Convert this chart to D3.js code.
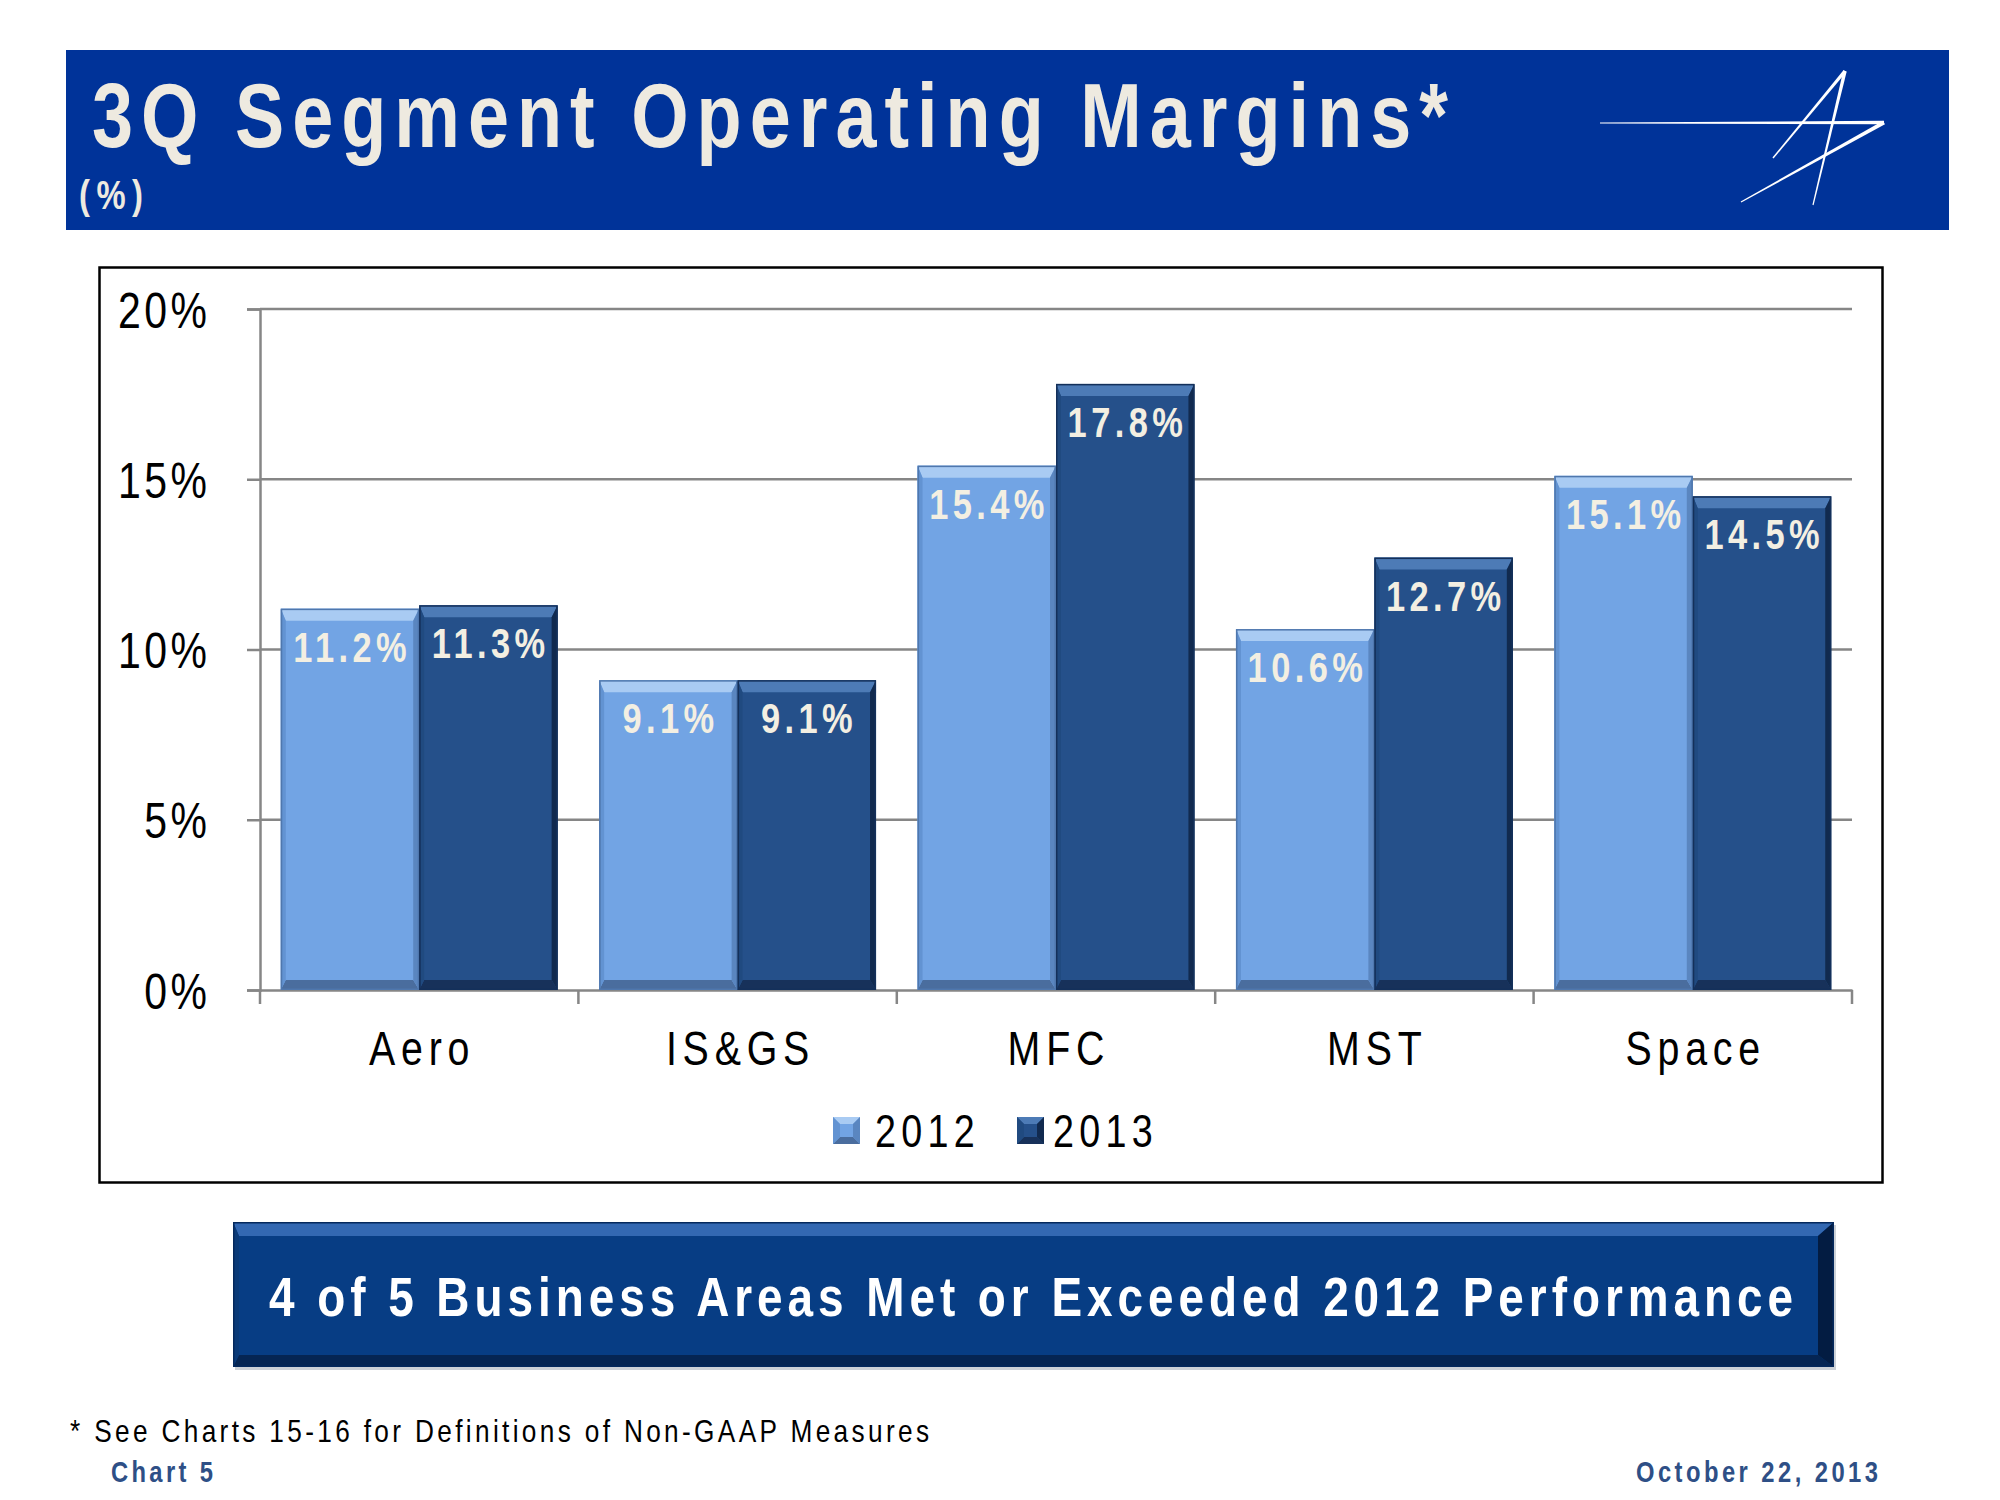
<!DOCTYPE html>
<html><head><meta charset="utf-8">
<script src="https://cdn.jsdelivr.net/npm/d3@7"></script>
<style>html,body{margin:0;padding:0;background:#fff;} svg{display:block;}</style>
</head><body>
<script>
// ---- data ----
const categories = ["Aero", "IS&GS", "MFC", "MST", "Space"];
const seriesNames = ["2012", "2013"];
const values2012 = [11.2, 9.1, 15.4, 10.6, 15.1];
const values2013 = [11.3, 9.1, 17.8, 12.7, 14.5];
const yTickValues = [0, 5, 10, 15, 20];
const yTickLabels = ["0%", "5%", "10%", "15%", "20%"];
const titleText = "3Q Segment Operating Margins*";
const unitText = "(%)";
const bannerText = "4 of 5 Business Areas Met or Exceeded 2012 Performance";
const footnoteText = "* See Charts 15-16 for Definitions of Non-GAAP Measures";
const chartNumText = "Chart 5";
const dateText = "October 22, 2013";

const FONT = "'Liberation Sans', Arial, sans-serif";
const K = 0.82; // horizontal compression to emulate a narrow face
const W = 2000, H = 1500;
const svg = d3.select("body").append("svg").attr("width", W).attr("height", H)
  .style("font-family", FONT);
svg.append("rect").attr("width", W).attr("height", H).attr("fill", "#fff");

// narrow text helper
function ntext(parent, o) {
  const k = o.k || K;
  const anchor = o.anchor || "start";
  let x = o.x;
  if (o.ls != null && !o.width) {
    if (anchor === "end") x += o.ls;
    else if (anchor === "middle") x += o.ls / 2;
  }
  const t = parent.append("text")
    .attr("transform", `translate(${x},${o.y}) scale(${k},1)`)
    .attr("font-size", o.size).attr("font-weight", o.weight || "normal")
    .attr("fill", o.fill || "#000").attr("text-anchor", anchor).text(o.text);
  if (o.width) t.attr("textLength", o.width / k).attr("lengthAdjust", "spacing");
  else if (o.ls != null) t.attr("letter-spacing", o.ls / k);
  return t;
}

// ---- header ----
svg.append("rect").attr("x", 66).attr("y", 50).attr("width", 1883).attr("height", 180).attr("fill", "#003399");
ntext(svg, {x: 92, y: 147, text: titleText, size: 90, weight: "bold", fill: "#eeeae0", width: 1356});
ntext(svg, {x: 79, y: 209, text: unitText, size: 40, weight: "bold", fill: "#eeeae0", width: 64});

// logo: tapered white strokes
function taper(x1, y1, x2, y2, w1, w2) {
  const dx = x2 - x1, dy = y2 - y1, L = Math.hypot(dx, dy);
  const nx = -dy / L, ny = dx / L;
  return [[x1 + nx * w1 / 2, y1 + ny * w1 / 2], [x2 + nx * w2 / 2, y2 + ny * w2 / 2],
          [x2 - nx * w2 / 2, y2 - ny * w2 / 2], [x1 - nx * w1 / 2, y1 - ny * w1 / 2]];
}
const logo = svg.append("g").attr("fill", "#ffffff");
[[1600, 123, 1884, 122.5, 0.8, 3.5],
 [1884, 122.5, 1741, 202, 4, 1.2],
 [1845, 71, 1773, 158, 3.5, 1.5],
 [1845, 71, 1813, 205, 3.5, 1.2]].forEach(s => {
  logo.append("polygon").attr("points", taper(...s).map(p => p.join(",")).join(" "));
});

// ---- chart box ----
svg.append("rect").attr("x", 99.5).attr("y", 267.5).attr("width", 1783).attr("height", 915)
  .attr("fill", "none").attr("stroke", "#000").attr("stroke-width", 2.5);

const x0 = d3.scaleBand().domain(categories).range([260, 1852]).paddingInner(0).paddingOuter(0);
const x1 = d3.scaleBand().domain(seriesNames).range([0, x0.bandwidth()]).paddingInner(0).paddingOuter(0.15);
const y = d3.scaleLinear().domain([0, 20]).range([990, 309]);

// gridlines + y axis
const yLs = 3.5;
const yAxis = d3.axisLeft(y).tickValues(yTickValues).tickSize(13).tickFormat((d, i) => yTickLabels[i]);
const gy = svg.append("g").attr("transform", "translate(260,0)").call(yAxis);
gy.select(".domain").attr("stroke", "#868686").attr("stroke-width", 2.5);
gy.selectAll(".tick line").attr("stroke", "#868686").attr("stroke-width", 2.5);
gy.selectAll(".tick text").attr("x", (-53 + yLs) / K).attr("dy", "0.36em").attr("font-size", 50)
  .attr("transform", `scale(${K},1)`).attr("letter-spacing", yLs / K)
  .attr("font-family", FONT).attr("fill", "#000");
svg.append("g").selectAll("line").data(yTickValues.filter(v => v > 0)).join("line")
  .attr("x1", 260).attr("x2", 1852).attr("y1", d => y(d)).attr("y2", d => y(d))
  .attr("stroke", "#868686").attr("stroke-width", 2.5);

// x axis
const xLs = 5.8;
const xAxis = d3.axisBottom(x0).tickSize(0).tickPadding(0);
const gx = svg.append("g").attr("transform", "translate(0,990)").call(xAxis);
gx.select(".domain").attr("stroke", "#868686").attr("stroke-width", 2.5);
gx.selectAll(".tick text").attr("y", 75).attr("dy", 0).attr("x", (xLs / 2) / K).attr("font-size", 48)
  .attr("transform", `scale(${K},1)`).attr("letter-spacing", xLs / K)
  .attr("font-family", FONT).attr("fill", "#000");
const boundaries = categories.map(c => x0(c)).concat([x0(categories[categories.length - 1]) + x0.bandwidth()]);
svg.append("g").selectAll("line").data(boundaries).join("line")
  .attr("x1", d => d).attr("x2", d => d).attr("y1", 990).attr("y2", 1004)
  .attr("stroke", "#868686").attr("stroke-width", 2.5);

// ---- bars with bevel ----
const palette = {
  "2012": {base: "#72a4e4", top: "#a9cbf3", left: "#6293d2", right: "#5a86c0", bottom: "#4a6d9e", edge: "#4f77ad"},
  "2013": {base: "#25508a", top: "#4d7bb6", left: "#204a80", right: "#112a4f", bottom: "#17315a", edge: "#14305a"}
};
function bevel(g, x, yy, w, h, c, t, s, b, r) {
  const X = x, Y = yy, X2 = x + w, Y2 = yy + h;
  const ix = x + s, iy = yy + t, ix2 = x + w - r, iy2 = yy + h - b;
  g.append("rect").attr("x", X).attr("y", Y).attr("width", w).attr("height", h).attr("fill", c.base);
  const poly = (pts, f) => g.append("polygon").attr("points", pts.map(p => p.join(",")).join(" ")).attr("fill", f);
  poly([[X, Y], [X2, Y], [ix2, iy], [ix, iy]], c.top);
  poly([[X, Y2], [X2, Y2], [ix2, iy2], [ix, iy2]], c.bottom);
  poly([[X, Y], [ix, iy], [ix, iy2], [X, Y2]], c.left);
  poly([[X2, Y], [ix2, iy], [ix2, iy2], [X2, Y2]], c.right);
  g.append("rect").attr("x", X + 0.75).attr("y", Y + 0.75).attr("width", w - 1.5).attr("height", h - 1.5)
    .attr("fill", "none").attr("stroke", c.edge).attr("stroke-width", 1.5);
}
const rows = categories.map((c, i) => ({cat: c, vals: [
  {s: "2012", v: values2012[i]}, {s: "2013", v: values2013[i]}]}));
const barsG = svg.append("g");
rows.forEach(r => {
  r.vals.forEach(d => {
    const bx = x0(r.cat) + x1(d.s), bw = x1.bandwidth();
    const by = y(d.v), bh = y(0) - y(d.v);
    bevel(barsG, bx, by, bw, bh, palette[d.s], 12, 5, 10, 6);
  });
});
// data labels
const labG = svg.append("g");
rows.forEach(r => {
  r.vals.forEach(d => {
    ntext(labG, {x: x0(r.cat) + x1(d.s) + x1.bandwidth() / 2, y: y(d.v) + 53,
      text: d3.format(".1f")(d.v) + "%", size: 42, weight: "bold", fill: "#f3efe2",
      anchor: "middle", ls: 4.4});
  });
});

// ---- legend ----
const legendItems = [{s: "2012", sx: 833, tx: 875}, {s: "2013", sx: 1017, tx: 1053}];
legendItems.forEach(li => {
  const c = palette[li.s], x = li.sx, yy = 1117, sz = 27, b = 7;
  const g = svg.append("g");
  g.append("rect").attr("x", x).attr("y", yy).attr("width", sz).attr("height", sz).attr("fill", c.base);
  const poly = (pts, f) => g.append("polygon").attr("points", pts.map(p => p.join(",")).join(" ")).attr("fill", f);
  poly([[x, yy], [x + sz, yy], [x + sz - b, yy + b], [x + b, yy + b]], c.top);
  poly([[x, yy + sz], [x + sz, yy + sz], [x + sz - b, yy + sz - b], [x + b, yy + sz - b]], c.bottom);
  poly([[x, yy], [x + b, yy + b], [x + b, yy + sz - b], [x, yy + sz]], c.left);
  poly([[x + sz, yy], [x + sz - b, yy + b], [x + sz - b, yy + sz - b], [x + sz, yy + sz]], c.right);
  ntext(svg, {x: li.tx, y: 1147, text: li.s, size: 46, ls: 5.3});
});

// ---- bottom banner ----
(function () {
  const g = svg.append("g");
  const x = 233, yy = 1222, w = 1601, h = 145;
  g.append("rect").attr("x", x + 2).attr("y", yy + 3).attr("width", w).attr("height", h).attr("fill", "#9aa3b0").attr("opacity", 0.5);
  bevel(g, x, yy, w, h, {base: "#073d84", top: "#3368b2", left: "#0a3a78", right: "#031c42", bottom: "#052553", edge: "#04285c"}, 14, 6, 12, 16);
  ntext(g, {x: 269, y: 1316, text: bannerText, size: 56, weight: "bold", fill: "#ffffff", width: 1524});
})();

// ---- footer ----
ntext(svg, {x: 70, y: 1442, text: footnoteText, size: 32, fill: "#000", width: 859});
ntext(svg, {x: 111, y: 1482, text: chartNumText, size: 29, weight: "bold", fill: "#2e4f86", width: 102});
ntext(svg, {x: 1636, y: 1482, text: dateText, size: 29, weight: "bold", fill: "#2e4f86", width: 242});
</script>
</body></html>
